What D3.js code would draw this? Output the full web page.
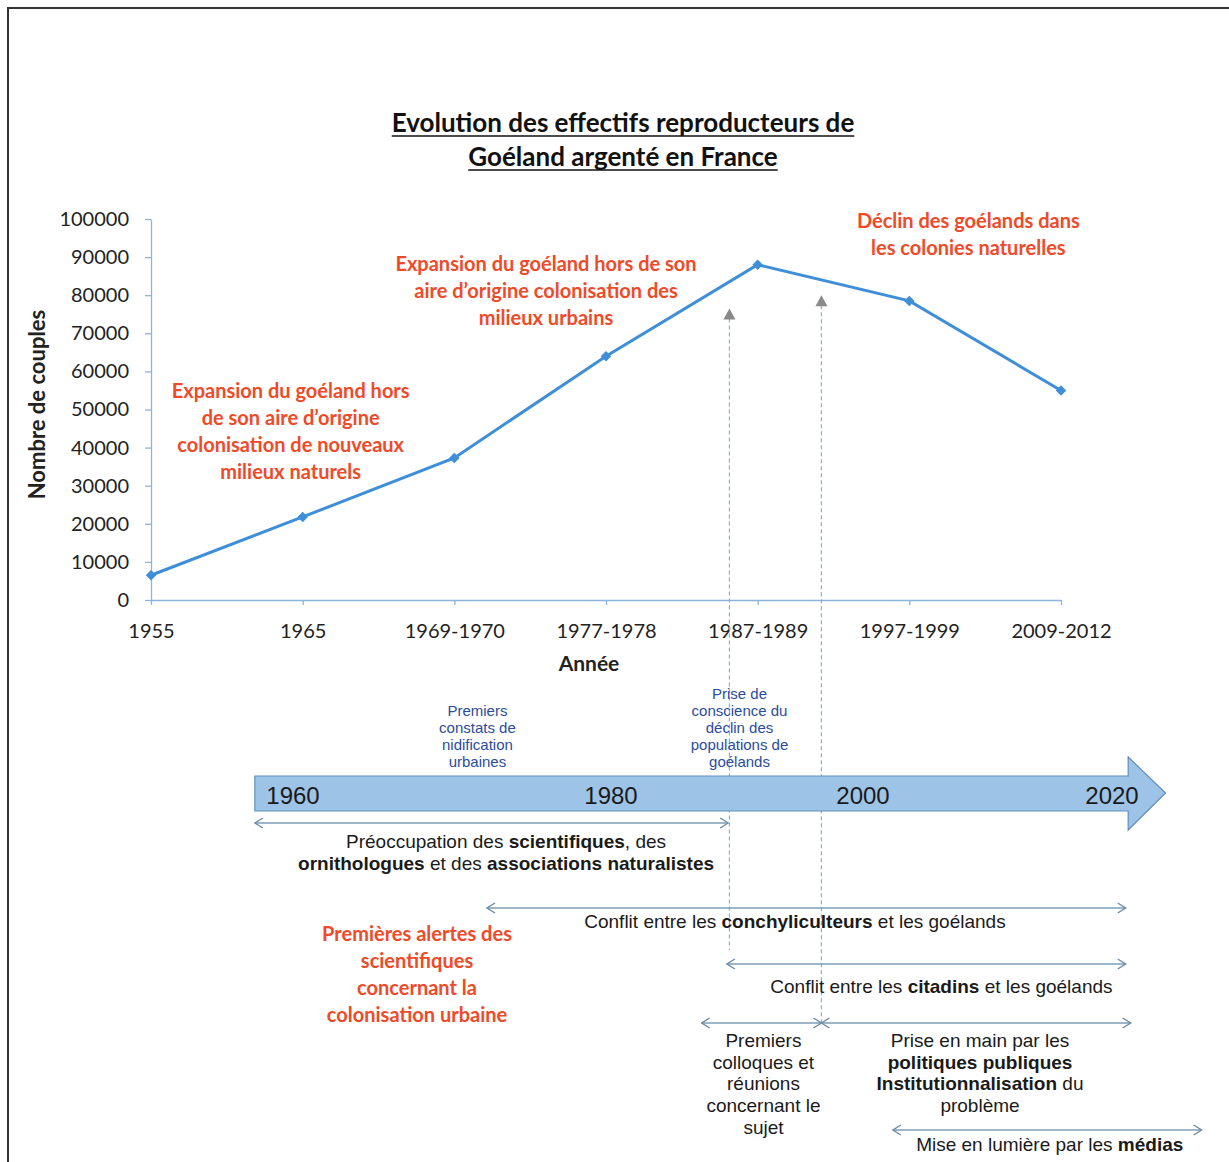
<!DOCTYPE html>
<html>
<head>
<meta charset="utf-8">
<script src="https://cdn.jsdelivr.net/npm/d3@7"></script>
<style>
	body { margin: 0; background: #fff; }
	svg { display: block; }
</style>
</head>
<body>
<div id="wrapper"></div>
<script>

// data

const categories = ["1955", "1965", "1969-1970", "1977-1978", "1987-1989", "1997-1999", "2009-2012"];
const couples = [6500, 21800, 37300, 64000, 88000, 78500, 55000];
const yTicks = [0, 10000, 20000, 30000, 40000, 50000, 60000, 70000, 80000, 90000, 100000];

const titleLines = ["Evolution des effectifs reproducteurs de", "Goéland argenté en France"];

const chartNotes = [
	{ at: "1965", dx: -12, value: 54500, lines: ["Expansion du goéland hors", "de son aire d’origine", "colonisation de nouveaux", "milieux naturels"] },
	{ at: "1977-1978", dx: -60, value: 88000, lines: ["Expansion du goéland hors de son", "aire d’origine colonisation des", "milieux urbains"] },
	{ at: "1997-1999", dx: 59, value: 99300, lines: ["Déclin des goélands dans", "les colonies naturelles"] }
];

const timelineYears = [1960, 1980, 2000, 2020];

// vertical event markers (year on the timeline, value where the arrow points in the chart)
const eventMarkers = [
	{ year: 1989.4, value: 76500, endRow: 2.7 },
	{ year: 1996.7, value: 80000, endRow: 4 }
];

const eventNotes = [
	{ year: 1971.6, lines: ["Premiers", "constats de", "nidification", "urbaines"] },
	{ year: 1990.2, lines: ["Prise de", "conscience du", "déclin des", "populations de", "goélands"] }
];

const spans = [
	{ row: 1, from: 1957.6, to: 1989.3, labelAt: 1973.4, lines: ["Préoccupation des **scientifiques**, des", "**ornithologues** et des **associations naturalistes**"] },
	{ row: 2, from: 1972.2, to: 2021.1, labelAt: 1994.6, lines: ["Conflit entre les **conchyliculteurs** et les goélands"] },
	{ row: 3, from: 1989.2, to: 2021.1, labelAt: 2006.3, lines: ["Conflit entre les **citadins** et les goélands"] },
	{ row: 4, from: 1987.2, to: 1996.7, labelAt: 1992.1, lines: ["Premiers", "colloques et", "réunions", "concernant le", "sujet"] },
	{ row: 4, from: 1996.7, to: 2021.5, labelAt: 2009.4, lines: ["Prise en main par les", "**politiques publiques**", "**Institutionnalisation** du", "problème"] },
	{ row: 5, from: 2002.4, to: 2027.2, labelAt: 2015.0, lines: ["Mise en lumière par les **médias**"] }
];

const redNote = { year: 1967.8, lines: ["Premières alertes des", "scientifiques", "concernant la", "colonisation urbaine"] };

function drawChart() {

	// 1. dimensions

	const dimensions = {
		width: 1229,
		height: 1162,
		margin: { top: 219, left: 151 },
		boundedWidth: 910,
		boundedHeight: 381
	};

	const red = "#f04a28";
	const lineBlue = "#3f8fd8";
	const axisBlue = "#8db4da";
	const calibri = "Lato, 'Open Sans', sans-serif";
	const arial = "'Liberation Sans', Arial, sans-serif";

	// row positions of the timeline part
	const rowY = { 0: 793, 1: 823, 2: 908, 3: 964, 4: 1023, 5: 1130 };
	const rowTextDy = { 1: 25, 2: 20, 3: 29, 4: 24, 5: 21 };
	const rowLineH = { 1: 22, 2: 22, 3: 22, 4: 21.7, 5: 22 };

	// 2. canvas

	const wrapper = d3.select("#wrapper")
		.append("svg")
		.attr("width", dimensions.width)
		.attr("height", dimensions.height);

	wrapper.append("path")
		.attr("d", `M8,${dimensions.height} V8 H${dimensions.width}`)
		.attr("fill", "none")
		.attr("stroke", "#333")
		.attr("stroke-width", 2);

	const bounds = wrapper.append("g")
		.attr("transform", `translate(${dimensions.margin.left},${dimensions.margin.top})`);

	// helper for multi-line text with **bold** parts
	function richText(sel, lines, x, y, lh) {
		const t = sel.append("text").attr("text-anchor", "middle");
		lines.forEach((line, i) => {
			let first = true;
			line.split("**").forEach((part, j) => {
				if (!part) return;
				const ts = t.append("tspan").text(part);
				if (j % 2) ts.attr("font-weight", "bold");
				if (first) {
					ts.attr("x", x).attr("y", y + i * lh);
					first = false;
				}
			});
		});
		return t;
	}

	// 3. scales

	const xScale = d3.scalePoint()
		.domain(categories)
		.range([0, dimensions.boundedWidth]);

	const yScale = d3.scaleLinear()
		.domain([0, 100000])
		.range([dimensions.boundedHeight, 0]);

	const tlScale = d3.scaleLinear()
		.domain(timelineYears)
		.range([293, 611, 863, 1112]);

	// 4. title

	const title = wrapper.append("g")
		.attr("font-family", calibri)
		.attr("font-weight", "bold")
		.attr("font-size", 26)
		.attr("fill", "#111");
	titleLines.forEach((t, i) => {
		const txt = title.append("text")
			.attr("x", 623)
			.attr("y", 132 + i * 34)
			.attr("text-anchor", "middle")
			.text(t);
		const w = txt.node().getComputedTextLength();
		title.append("line")
			.attr("x1", 623 - w / 2).attr("x2", 623 + w / 2)
			.attr("y1", 132 + i * 34 + 4).attr("y2", 132 + i * 34 + 4)
			.attr("stroke", "#111").attr("stroke-width", 1.6);
	});

	// 5. axes

	const yAxis = bounds.append("g")
		.call(d3.axisLeft(yScale).tickValues(yTicks).tickSize(6).tickSizeOuter(0).tickPadding(16).tickFormat(d3.format("d")));
	yAxis.selectAll("text").attr("font-family", calibri).attr("font-size", 20).attr("fill", "#222");

	const xAxis = bounds.append("g")
		.attr("transform", `translate(0,${dimensions.boundedHeight})`)
		.call(d3.axisBottom(xScale).tickSize(5).tickSizeOuter(0).tickPadding(19));
	xAxis.selectAll("text").attr("font-family", calibri).attr("font-size", 20).attr("fill", "#222");

	[yAxis, xAxis].forEach(a => {
		a.select(".domain").attr("stroke", axisBlue).attr("stroke-width", 1.3);
		a.selectAll(".tick line").attr("stroke", axisBlue).attr("stroke-width", 1.3);
	});

	bounds.append("text")
		.attr("x", 438)
		.attr("y", dimensions.boundedHeight + 71)
		.attr("text-anchor", "middle")
		.attr("font-family", calibri).attr("font-weight", "bold").attr("font-size", 21)
		.attr("fill", "#222")
		.text("Année");

	bounds.append("text")
		.attr("transform", `translate(${-106},${dimensions.boundedHeight / 2 - 5}) rotate(-90)`)
		.attr("text-anchor", "middle")
		.attr("font-family", calibri).attr("font-weight", "bold").attr("font-size", 22)
		.attr("fill", "#222")
		.text("Nombre de couples");

	// 6. line + markers

	const lineGenerator = d3.line()
		.x((d, i) => xScale(categories[i]))
		.y(d => yScale(d));

	bounds.append("path")
		.datum(couples)
		.attr("d", lineGenerator)
		.attr("fill", "none")
		.attr("stroke", lineBlue)
		.attr("stroke-width", 3);

	bounds.selectAll(".marker")
		.data(couples)
		.join("path")
		.attr("class", "marker")
		.attr("d", d3.symbol(d3.symbolDiamond2, 70))
		.attr("transform", (d, i) => `translate(${xScale(categories[i])},${yScale(d)})`)
		.attr("fill", lineBlue);

	// 7. red annotations of the chart

	const notes = bounds.append("g")
		.attr("font-family", calibri).attr("font-weight", "bold").attr("font-size", 20)
		.attr("fill", red);
	chartNotes.forEach(n => {
		richText(notes, n.lines, xScale(n.at) + n.dx, yScale(n.value) + 6, 27);
	});

	// 8. event markers (dashed lines with gray arrow heads)

	eventMarkers.forEach(m => {
		const x = tlScale(m.year);
		const yTop = dimensions.margin.top + yScale(m.value);
		const yEnd = m.endRow === 4 ? rowY[4] : 950;
		wrapper.append("line")
			.attr("x1", x).attr("x2", x)
			.attr("y1", yTop + 10).attr("y2", yEnd)
			.attr("stroke", "#84aed6")
			.attr("stroke-width", 1.2)
			.attr("stroke-dasharray", "4,3");
		wrapper.append("path")
			.attr("d", `M${x},${yTop} L${x + 6},${yTop + 11} L${x - 6},${yTop + 11} Z`)
			.attr("fill", "#8a8a8a");
	});

	// 9. timeline arrow

	const x0 = tlScale(1957.6), xh = tlScale(2021.3), xt = tlScale(2024.3);
	wrapper.append("path")
		.attr("d", `M${x0},776 H${xh} V757 L${xt},${rowY[0]} L${xh},830 V811 H${x0} Z`)
		.attr("fill", "#9dc3e6")
		.attr("stroke", "#5f8fbf")
		.attr("stroke-width", 1.2);

	wrapper.selectAll(".tl-year")
		.data(timelineYears)
		.join("text")
		.attr("class", "tl-year")
		.attr("x", d => tlScale(d))
		.attr("y", 804)
		.attr("text-anchor", "middle")
		.attr("font-family", arial).attr("font-size", 24)
		.attr("fill", "#1a1a1a")
		.text(d => d);

	const blue = wrapper.append("g")
		.attr("font-family", arial).attr("font-size", 15).attr("fill", "#2c4c9c");
	eventNotes.forEach(n => {
		richText(blue, n.lines, tlScale(n.year), rowY[0] - 31 - (n.lines.length - 1) * 17 + 5, 17);
	});

	// 10. spans

	const defs = wrapper.append("defs");
	defs.append("marker")
		.attr("id", "chev")
		.attr("viewBox", "0 -6 10 12")
		.attr("refX", 9).attr("refY", 0)
		.attr("markerWidth", 10).attr("markerHeight", 12)
		.attr("markerUnits", "userSpaceOnUse")
		.attr("orient", "auto-start-reverse")
		.append("path")
		.attr("d", "M1,-5 L9,0 L1,5")
		.attr("fill", "none")
		.attr("stroke", "#6a8ba3")
		.attr("stroke-width", 1.4);

	const spanG = wrapper.append("g")
		.attr("font-family", arial).attr("font-size", 19).attr("fill", "#1a1a1a");

	spans.forEach(s => {
		const y = rowY[s.row];
		spanG.append("line")
			.attr("x1", tlScale(s.from)).attr("x2", tlScale(s.to))
			.attr("y1", y).attr("y2", y)
			.attr("stroke", "#7d9db3")
			.attr("stroke-width", 1.4)
			.attr("marker-start", "url(#chev)")
			.attr("marker-end", "url(#chev)");
		richText(spanG, s.lines, tlScale(s.labelAt), y + rowTextDy[s.row], rowLineH[s.row]);
	});

	const redG = wrapper.append("g")
		.attr("font-family", calibri).attr("font-weight", "bold").attr("font-size", 20)
		.attr("fill", red);
	richText(redG, redNote.lines, tlScale(redNote.year), 941, 27);
}

drawChart();
</script>
</body>
</html>
